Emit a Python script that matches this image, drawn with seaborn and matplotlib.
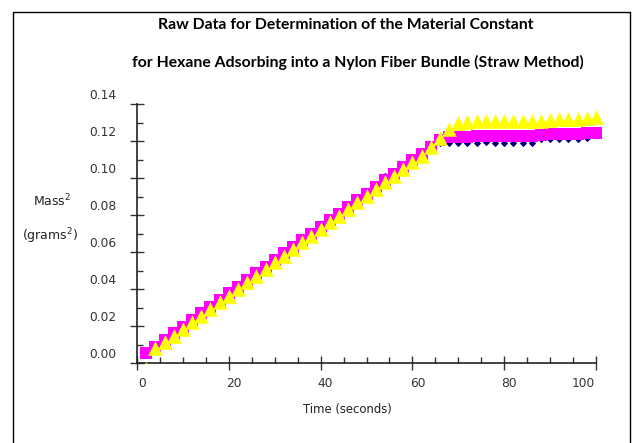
import matplotlib
matplotlib.use("Agg")
import matplotlib.pyplot as plt
import matplotlib.transforms as mtransforms
from matplotlib.ticker import MultipleLocator
from matplotlib.lines import Line2D
import seaborn as sns
import pandas as pd

# ---------------- data ----------------
time_s = [2, 4, 6, 8, 10, 12, 14, 16, 18, 20, 22, 24, 26, 28, 30, 32, 34, 36, 38, 40,
          42, 44, 46, 48, 50, 52, 54, 56, 58, 60, 62, 64, 66, 68, 70, 72, 74, 76, 78, 80,
          82, 84, 86, 88, 90, 92, 94, 96, 98, 100]

mass_sq_magenta = [0.0054, 0.0088, 0.0124, 0.0160, 0.0196, 0.0232, 0.0268, 0.0304, 0.0340, 0.0376,
                   0.0412, 0.0448, 0.0484, 0.0520, 0.0556, 0.0592, 0.0628, 0.0664, 0.0700, 0.0736,
                   0.0772, 0.0808, 0.0844, 0.0880, 0.0916, 0.0952, 0.0988, 0.1024, 0.1060, 0.1096,
                   0.1132, 0.1168, 0.1204, 0.1220, 0.1222, 0.1222, 0.1226, 0.1226, 0.1226, 0.1228,
                   0.1228, 0.1228, 0.1228, 0.1230, 0.1238, 0.1240, 0.1240, 0.1240, 0.1242, 0.1244]

mass_sq_yellow = [-0.0030, 0.0080, 0.0112, 0.0148, 0.0184, 0.0220, 0.0256, 0.0292, 0.0328, 0.0364,
                  0.0400, 0.0436, 0.0472, 0.0508, 0.0544, 0.0580, 0.0616, 0.0652, 0.0688, 0.0724,
                  0.0760, 0.0796, 0.0832, 0.0868, 0.0904, 0.0940, 0.0976, 0.1012, 0.1048, 0.1084,
                  0.1120, 0.1170, 0.1215, 0.1265, 0.1295, 0.1304, 0.1306, 0.1306, 0.1306, 0.1308,
                  0.1308, 0.1308, 0.1310, 0.1310, 0.1316, 0.1317, 0.1317, 0.1318, 0.1326, 0.1328]

mass_sq_blue = [0.0046, 0.0080, 0.0116, 0.0152, 0.0188, 0.0224, 0.0260, 0.0296, 0.0332, 0.0368,
                0.0404, 0.0440, 0.0476, 0.0512, 0.0548, 0.0584, 0.0620, 0.0656, 0.0692, 0.0728,
                0.0764, 0.0800, 0.0836, 0.0872, 0.0908, 0.0944, 0.1010, 0.1016, 0.1052, 0.1088,
                0.1124, 0.1160, 0.1190, 0.1191, 0.1191, 0.1191, 0.1191, 0.1192, 0.1191, 0.1191,
                0.1191, 0.1191, 0.1191, 0.1212, 0.1212, 0.1213, 0.1212, 0.1213, 0.1214, 0.1230]

title_lines = ["Raw Data for Determination of the Material Constant",
               "for Hexane Adsorbing into a Nylon Fiber Bundle (Straw Method)"]
x_label = "Time (seconds)"
y_label_lines = ["Mass$^{2}$", "(grams$^{2}$)"]
x_ticks = [0, 20, 40, 60, 80, 100]
y_ticks = [0.00, 0.02, 0.04, 0.06, 0.08, 0.10, 0.12, 0.14]

df = pd.DataFrame({"time": time_s, "magenta": mass_sq_magenta,
                   "yellow": mass_sq_yellow, "blue": mass_sq_blue})

# ---------------- figure ----------------
sns.set_theme(style="white")
plt.rcParams['font.family'] = ['DejaVu Sans']
W, H = 636, 443
fig = plt.figure(figsize=(W / 100, H / 100), dpi=100)
fig.patch.set_facecolor("white")

x0, x100, y0, y14 = 137, 596, 363, 104
ppx = (x100 - x0) / 100.0
ax = fig.add_axes([x0 / W, (H - y0) / H, (x100 - x0 + 2.0 * ppx) / W, (y0 - y14) / H])
ax.set_facecolor("none")

sns.scatterplot(data=df, x="time", y="blue", marker="D", s=14, color="#000080",
                linewidth=0, ax=ax, zorder=3)
sns.scatterplot(data=df, x="time", y="magenta", marker="s", s=72, color="#FF00FF",
                linewidth=0, ax=ax, zorder=4)
sns.scatterplot(data=df, x="time", y="yellow", marker="^", s=110, color="#FFFF00",
                linewidth=0, ax=ax, zorder=5)

ax.set_xlim(0, 102)
ax.set_ylim(0, 0.14)
ax.spines['bottom'].set_bounds(0, 100)
for s in ["top", "right"]:
    ax.spines[s].set_visible(False)
for s in ["left", "bottom"]:
    ax.spines[s].set_color("#222222")
    ax.spines[s].set_linewidth(1.2)

ax.set_xticks(x_ticks)
ax.set_xticklabels([str(v) for v in x_ticks])
ax.set_yticks(y_ticks)
ax.set_yticklabels([f"{v:.2f}" for v in y_ticks])
ax.xaxis.set_minor_locator(MultipleLocator(5))
ax.yaxis.set_minor_locator(MultipleLocator(0.01))

ax.tick_params(axis="both", which="major", direction="inout", length=9.5, width=1.0,
               color="#333333", labelsize=8.8, labelcolor="#333333")
ax.tick_params(axis="both", which="minor", direction="in", length=4.5, width=1.0,
               color="#333333")
ax.tick_params(axis="x", which="major", pad=5, bottom=True)
ax.tick_params(axis="y", which="major", pad=10, left=True)
ax.tick_params(axis="x", which="minor", bottom=True)
ax.tick_params(axis="y", which="minor", left=True)

# Excel-style label offsets
shift_y = mtransforms.ScaledTranslation(0, 0.10, fig.dpi_scale_trans)
for t in ax.yaxis.get_major_ticks():
    t.label1.set_transform(t.label1.get_transform() + shift_y)
xticks_objs = ax.xaxis.get_major_ticks()
for i, t in enumerate(xticks_objs):
    dx = 0.05 if i < len(xticks_objs) - 1 else -0.13
    t.label1.set_transform(t.label1.get_transform() +
                           mtransforms.ScaledTranslation(dx, 0, fig.dpi_scale_trans))

ax.set_xlabel(x_label, fontsize=8.4, color="#222222")
ax.xaxis.set_label_coords((347 - x0) / (x100 - x0 + 2.0 * ppx), -(410 - y0) / (y0 - y14))
ax.xaxis.label.set_va("center")
ax.set_ylabel("")

fig.text(52 / W, 1 - 201 / H, y_label_lines[0], ha="center", va="center",
         fontsize=9, color="#222222")
fig.text(50 / W, 1 - 236 / H, y_label_lines[1], ha="center", va="center",
         fontsize=9, color="#222222")

fig.text(346 / W, 1 - 25 / H, title_lines[0], ha="center", va="center",
         fontsize=11.3, fontweight="bold", color="#000000", family=["Lato", "DejaVu Sans"])
fig.text(358 / W, 1 - 62 / H, title_lines[1], ha="center", va="center",
         fontsize=11.3, fontweight="bold", color="#000000", family=["Lato", "DejaVu Sans"])

# chart frame
for xs, ys in [([13, 13], [0, 431]), ([13, 630], [431, 431]), ([630, 630], [0, 431])]:
    fig.add_artist(Line2D([v / W for v in xs], [v / H for v in ys], color="#000000",
                          linewidth=1.0, transform=fig.transFigure))

fig.savefig("out.png", dpi=100, facecolor="white")
